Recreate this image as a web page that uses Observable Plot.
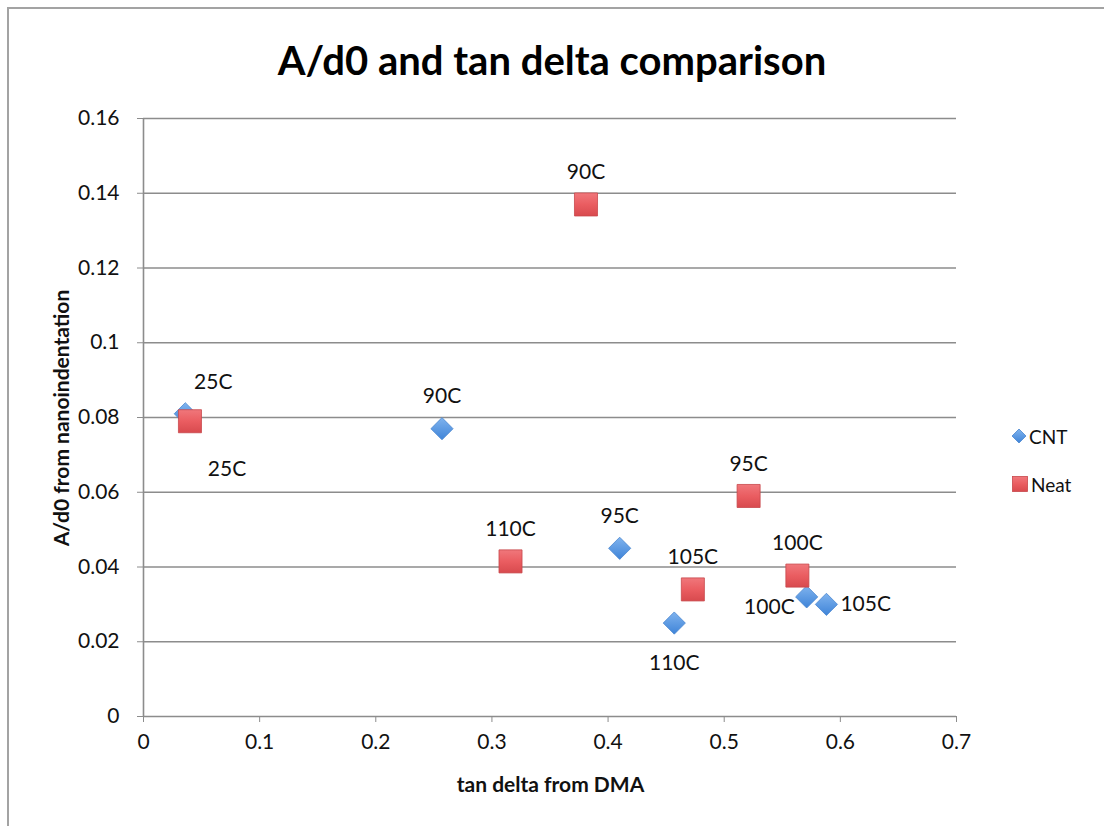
<!DOCTYPE html>
<html>
<head>
<meta charset="utf-8">
<script src="https://cdn.jsdelivr.net/npm/d3@7"></script>
<script src="https://cdn.jsdelivr.net/npm/@observablehq/plot@0.6"></script>
<style>
  html, body { margin: 0; padding: 0; background: #fff; }
  #wrap { position: relative; width: 1104px; height: 826px; overflow: hidden; background: #fff; font-family: Lato, "Open Sans", sans-serif; }
  #frame { position: absolute; left: 7px; top: 7px; width: 1120px; height: 830px; border-left: 2px solid #a3a3a3; border-top: 2px solid #a3a3a3; box-sizing: border-box; }
  #title { position: absolute; left: 0; width: 1104px; top: 36px; line-height: 48px; text-align: center; font-weight: bold; font-size: 40px; color: #000; }
  #xlab { position: absolute; left: 143px; width: 815px; top: 771px; text-align: center; font-weight: bold; font-size: 21px; color: #111; }
  #ylab { position: absolute; left: 60px; top: 418px; transform: translate(-50%, -50%) rotate(-90deg); white-space: nowrap; font-weight: bold; font-size: 21px; color: #111; }
  #legend { position: absolute; left: 1012px; top: 424px; font-size: 19px; color: #111; }
  #legend .row { display: flex; align-items: center; height: 24px; margin-bottom: 24px; }
  #legend svg { margin-right: 3px; }
  #chart { position: absolute; left: 0; top: 0; }
</style>
</head>
<body>
<div id="wrap">
  <div id="frame"></div>
  <div id="chart"></div>
  <div id="title">A/d0 and tan delta comparison</div>
  <div id="xlab">tan delta from DMA</div>
  <div id="ylab">A/d0 from nanoindentation</div>
  <div id="legend"></div>
</div>
<script>
// ---- data ----
const seriesNames = ["CNT", "Neat"];
const cntLabels = ["25C", "90C", "95C", "110C", "100C", "105C"];
const cntX      = [0.036, 0.257, 0.410, 0.457, 0.571, 0.588];
const cntY      = [0.081, 0.077, 0.045, 0.025, 0.032, 0.030];
const cntPlace  = ["aboveRight", "above", "above", "below", "left", "right"];
const neatLabels = ["25C", "90C", "95C", "110C", "105C", "100C"];
const neatX      = [0.040, 0.381, 0.521, 0.316, 0.473, 0.563];
const neatY      = [0.079, 0.137, 0.059, 0.0415, 0.034, 0.0377];
const neatPlace  = ["belowRight", "above", "above", "above", "above", "above"];
const xTicks = [0, 0.1, 0.2, 0.3, 0.4, 0.5, 0.6, 0.7];
const yTicks = [0, 0.02, 0.04, 0.06, 0.08, 0.1, 0.12, 0.14, 0.16];

// ---- build tables ----
const cnt = cntLabels.map((l, i) => ({series: "CNT", label: l, x: cntX[i], y: cntY[i], place: cntPlace[i]}));
const neat = neatLabels.map((l, i) => ({series: "Neat", label: l, x: neatX[i], y: neatY[i], place: neatPlace[i]}));
const all = cnt.concat(neat);

const fmt = d => String(+(+d).toFixed(2));
const placements = {
  above:      {dx: 0,   dy: -32, textAnchor: "middle"},
  below:      {dx: 0,   dy: 40,  textAnchor: "middle"},
  right:      {dx: 14,  dy: 0,   textAnchor: "start"},
  left:       {dx: -12, dy: 10,  textAnchor: "end"},
  aboveRight: {dx: 28,  dy: -31, textAnchor: "middle"},
  belowRight: {dx: 37,  dy: 48,  textAnchor: "middle"}
};
const labelMarks = Object.entries(placements).map(([k, p]) =>
  Plot.text(all.filter(d => d.place === k), {
    x: "x", y: "y", text: "label",
    dx: p.dx, dy: p.dy, textAnchor: p.textAnchor,
    fontSize: 21, fill: "#111", fontFamily: "Lato, sans-serif"
  })
);

const chart = Plot.plot({
  width: 1104,
  height: 826,
  marginLeft: 143,
  marginRight: 148,
  marginTop: 118,
  marginBottom: 110,
  style: {fontFamily: "Lato, sans-serif", background: "transparent", overflow: "visible"},
  x: {domain: [0, 0.7]},
  y: {domain: [0, 0.16]},
  marks: [
    Plot.gridY(yTicks, {stroke: "#8c8c8c", strokeOpacity: 1, strokeWidth: 1.6}),
    Plot.ruleX([0], {stroke: "#8c8c8c", strokeWidth: 1.6}),
    Plot.axisY(yTicks, {tickSize: 6, tickPadding: 18, tickFormat: fmt, fontSize: 21, stroke: "#8c8c8c", fill: "#111", label: null}),
    Plot.axisX(xTicks, {tickSize: 6, tickPadding: 12, tickFormat: fmt, fontSize: 21, stroke: "#8c8c8c", fill: "#111", label: null}),
    Plot.dot(cnt, {x: "x", y: "y", symbol: "diamond2", r: 10, fill: "url(#gCNT)", stroke: "#4a86cf", strokeWidth: 0.8}),
    Plot.dot(neat, {x: "x", y: "y", symbol: "square", r: 13, fill: "url(#gNeat)", stroke: "#c8484b", strokeWidth: 0.8}),
    ...labelMarks
  ]
});

// gradients
const ns = "http://www.w3.org/2000/svg";
const defs = document.createElementNS(ns, "defs");
defs.innerHTML = `
  <linearGradient id="gCNT" x1="0" y1="0" x2="0" y2="1">
    <stop offset="0" stop-color="#7fb3ee"/>
    <stop offset="1" stop-color="#3f84d8"/>
  </linearGradient>
  <linearGradient id="gNeat" x1="0" y1="0" x2="0" y2="1">
    <stop offset="0" stop-color="#f0777b"/>
    <stop offset="0.5" stop-color="#ea5d61"/>
    <stop offset="1" stop-color="#d84a4e"/>
  </linearGradient>`;
chart.insertBefore(defs, chart.firstChild);
document.getElementById("chart").appendChild(chart);

// legend
const legend = document.getElementById("legend");
const symbols = {
  CNT: `<svg width="14" height="14"><path d="M7,0L14,7L7,14L0,7Z" fill="url(#gCNT)" stroke="#4a86cf" stroke-width="0.8"/></svg>`,
  Neat: `<svg width="16" height="16"><rect x="0.5" y="0.5" width="15" height="15" fill="url(#gNeat)" stroke="#c8484b" stroke-width="0.8"/></svg>`
};
seriesNames.forEach(s => {
  const row = document.createElement("div");
  row.className = "row";
  row.innerHTML = symbols[s] + `<span>${s}</span>`;
  legend.appendChild(row);
});
</script>
</body>
</html>
